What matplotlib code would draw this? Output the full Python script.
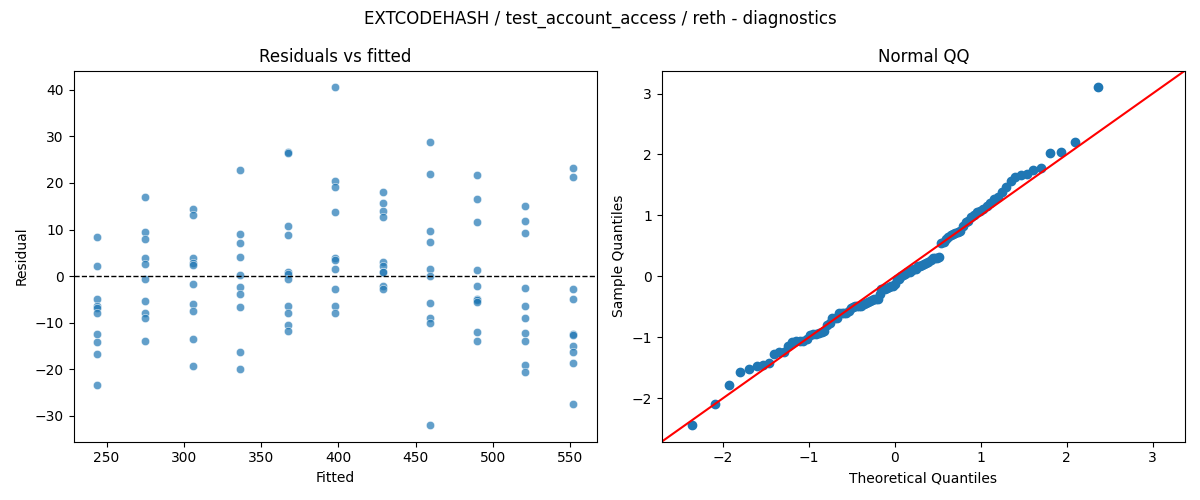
import matplotlib
matplotlib.use("Agg")
import matplotlib.pyplot as plt
import numpy as np
from statistics import NormalDist

# fitted value of each group and the residuals
fitted_levels = [244, 275, 306, 336.5, 367.5, 398, 429, 459.5, 490, 521, 552]
residuals = [
    [8.5, 2.2, -4.8, -6.5, -6.8, -7.9, -12.4, -14.2, -16.6, -23.4],
    [17.0, 9.5, 8.0, 3.9, 2.6, -0.5, -5.3, -8.0, -8.9, -13.8],
    [14.4, 13.1, 3.8, 2.8, 2.5, -1.7, -6.0, -7.4, -13.4, -19.2],
    [22.7, 9.0, 7.1, 4.1, 0.3, -2.3, -3.8, -6.6, -16.2, -19.9],
    [26.6, 26.5, 10.8, 8.8, 0.8, 0.4, -0.6, -6.4, -7.9, -10.4, -11.7],
    [40.5, 20.4, 19.1, 13.7, 3.8, 3.5, 1.5, -2.7, -6.5, -7.9],
    [18.0, 15.7, 14.0, 12.7, 3.0, 2.1, 1.0, 0.8, -2.0, -2.7],
    [28.9, 21.9, 9.8, 7.3, 1.5, 0.1, -5.7, -9.0, -10.0, -31.9],
    [21.7, 16.5, 11.6, 1.3, -2.2, -5.0, -5.2, -5.5, -12.0, -13.8],
    [15.0, 11.8, 9.3, -2.5, -6.4, -9.0, -12.2, -13.8, -19.0, -20.5],
    [23.2, 21.2, -2.7, -4.9, -12.5, -12.6, -14.9, -16.3, -18.6, -27.4],
]

title = "EXTCODEHASH / test_account_access / reth - diagnostics"

fitted = np.concatenate([[f] * len(r) for f, r in zip(fitted_levels, residuals)])
resid = np.concatenate(residuals)

fig, (ax1, ax2) = plt.subplots(1, 2, figsize=(12, 5), dpi=100)

# residuals vs fitted
ax1.scatter(fitted, resid, s=36, color="C0", alpha=0.7, edgecolor="w", linewidth=0.48)
ax1.axhline(0, color="black", linestyle="--", linewidth=1)
ax1.set_xlabel("Fitted")
ax1.set_ylabel("Residual")
ax1.set_title("Residuals vs fitted")

# normal QQ of the standardised residuals
z = np.sort((resid - resid.mean()) / resid.std())
n = len(z)
nd = NormalDist()
theo = np.array([nd.inv_cdf(i / (n + 1)) for i in range(1, n + 1)])
ax2.plot(theo, z, marker="o", linestyle="none", color="C0")
ax2.margins(0.05)
xl = ax2.get_xlim()
yl = ax2.get_ylim()
lo, hi = min(xl[0], yl[0]), max(xl[1], yl[1])
ax2.plot([lo, hi], [lo, hi], "r-")
ax2.set_xlim(lo, hi)
ax2.set_ylim(lo, hi)
ax2.set_xlabel("Theoretical Quantiles")
ax2.set_ylabel("Sample Quantiles")
ax2.set_title("Normal QQ")

fig.suptitle(title)
fig.tight_layout()
fig.savefig("out.png")
